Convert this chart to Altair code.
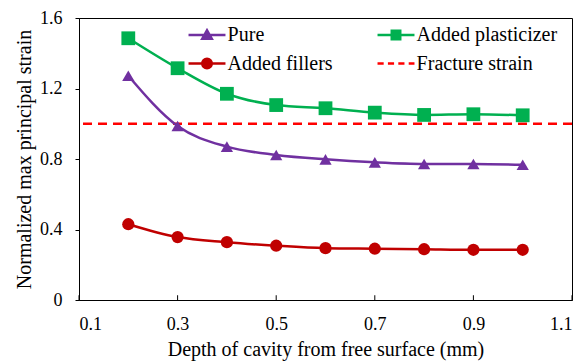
import altair as alt
import pandas as pd

# ---- data ----
depth = [0.2, 0.3, 0.4, 0.5, 0.6, 0.7, 0.8, 0.9, 1.0]
pure = [1.272, 0.987, 0.870, 0.823, 0.798, 0.781, 0.772, 0.772, 0.767]
plasticizer = [1.485, 1.315, 1.170, 1.106, 1.088, 1.063, 1.050, 1.054, 1.048]
fillers = [0.430, 0.357, 0.328, 0.308, 0.294, 0.291, 0.288, 0.285, 0.285]
fracture_strain = 1.0

series_names = ["Pure", "Added plasticizer", "Added fillers"]
# legend is filled column by column
legend_names = ["Pure", "Added fillers", "Added plasticizer", "Fracture strain"]
x_ticks = [0.1, 0.3, 0.5, 0.7, 0.9, 1.1]
y_ticks = [0, 0.4, 0.8, 1.2, 1.6]

# ---- styles ----
FONT = "Times New Roman, Liberation Serif, serif"
colors = {"Pure": "#7030A0", "Added plasticizer": "#00B050",
          "Added fillers": "#C00000", "Fracture strain": "#FF0000"}
shapes = {"Pure": "triangle-up", "Added plasticizer": "square", "Added fillers": "circle"}
sizes = {"Pure": 150, "Added plasticizer": 190, "Added fillers": 150}

legend_paths = {
    "Pure": "M-2.4,0L2.4,0M-0.62,0.5L0,-0.6L0.62,0.5Z",
    "Added plasticizer": "M-2.4,0L2.4,0M-0.55,-0.55L0.55,-0.55L0.55,0.55L-0.55,0.55Z",
    "Added fillers": "M-2.4,0L2.4,0M-0.62,0A0.62,0.62 0 1,0 0.62,0A0.62,0.62 0 1,0 -0.62,0Z",
    "Fracture strain": "M-2.4,0L-1.6,0M-1.05,0L-0.25,0M0.3,0L1.1,0M1.65,0L2.4,0",
}

rows = []
for name, vals in zip(series_names, [pure, plasticizer, fillers]):
    for d, v in zip(depth, vals):
        rows.append({"depth": d, "strain": v, "series": name})
df = pd.DataFrame(rows)
frac_df = pd.DataFrame({"strain": [fracture_strain]})
tick_df = pd.DataFrame({"depth": x_ticks})
legend_df = pd.DataFrame({"series": legend_names})

xscale = alt.Scale(domain=[0.1, 1.1], nice=False, zero=False)
yscale = alt.Scale(domain=[0, 1.6], nice=False)
cscale = alt.Scale(domain=series_names, range=[colors[s] for s in series_names])

x_enc = alt.X("depth:Q", scale=xscale,
              axis=alt.Axis(values=x_ticks, format=".1f", ticks=False, labelPadding=15,
                            title="Depth of cavity from free surface (mm)", titlePadding=6))
y_enc = alt.Y("strain:Q", scale=yscale,
              axis=alt.Axis(values=y_ticks, tickSize=4, labelPadding=13,
                            labelExpr="datum.value == 0 ? '0' : format(datum.value, '.1f')",
                            title="Normalized max principal strain", titlePadding=5))

frac = alt.Chart(frac_df).mark_rule(color=colors["Fracture strain"], strokeWidth=2.5,
                                    strokeDash=[9, 6]).encode(y=alt.Y("strain:Q", scale=yscale))

inner_ticks = alt.Chart(tick_df).mark_rule(color="black", strokeWidth=1).encode(
    x=alt.X("depth:Q", scale=xscale), y=alt.datum(0), y2=alt.datum(0.027))

lines = alt.Chart(df).mark_line(interpolate="monotone", strokeWidth=2.5).encode(
    x=x_enc, y=y_enc, color=alt.Color("series:N", scale=cscale, legend=None))

point_layers = []
for s in series_names:
    point_layers.append(
        alt.Chart(df).transform_filter(alt.datum.series == s).mark_point(
            filled=True, opacity=1, shape=shapes[s], size=sizes[s], color=colors[s]
        ).encode(x=alt.X("depth:Q", scale=xscale), y=alt.Y("strain:Q", scale=yscale))
    )

leg = alt.Legend(title=None, orient="none", legendX=118.0, legendY=7.0, columns=2,
                 columnPadding=39, rowPadding=8.6, symbolSize=237, symbolStrokeWidth=2.5,
                 labelOffset=10.6, labelFontSize=20, labelColor="black", padding=0,
                 labelFont=FONT)
legend_layer = alt.Chart(legend_df).transform_filter("false").mark_point(
    filled=True, opacity=1).encode(
    fill=alt.Fill("series:N", scale=alt.Scale(domain=legend_names,
                                                range=[colors[s] for s in legend_names]), legend=leg),
    stroke=alt.Stroke("series:N", scale=alt.Scale(domain=legend_names,
                                                    range=[colors[s] for s in legend_names]), legend=leg),
    shape=alt.Shape("series:N", scale=alt.Scale(domain=legend_names,
                                                  range=[legend_paths[s] for s in legend_names]), legend=leg),
)

chart = alt.layer(frac, inner_ticks, lines, *point_layers, legend_layer).properties(
    width=493, height=282,
    autosize=alt.AutoSizeParams(type="none"),
    padding={"left": 79, "top": 18, "right": 12, "bottom": 61},
).configure(font=FONT).configure_view(
    stroke="black", strokeWidth=1
).configure_axis(
    grid=False, labelFontSize=18, labelColor="black", titleFontSize=20,
    titleFontWeight="normal", titleColor="black", domainColor="black", tickColor="black",
    labelFont=FONT, titleFont=FONT
)

chart.save("out.html", embed_options={"renderer": "svg", "actions": False})
